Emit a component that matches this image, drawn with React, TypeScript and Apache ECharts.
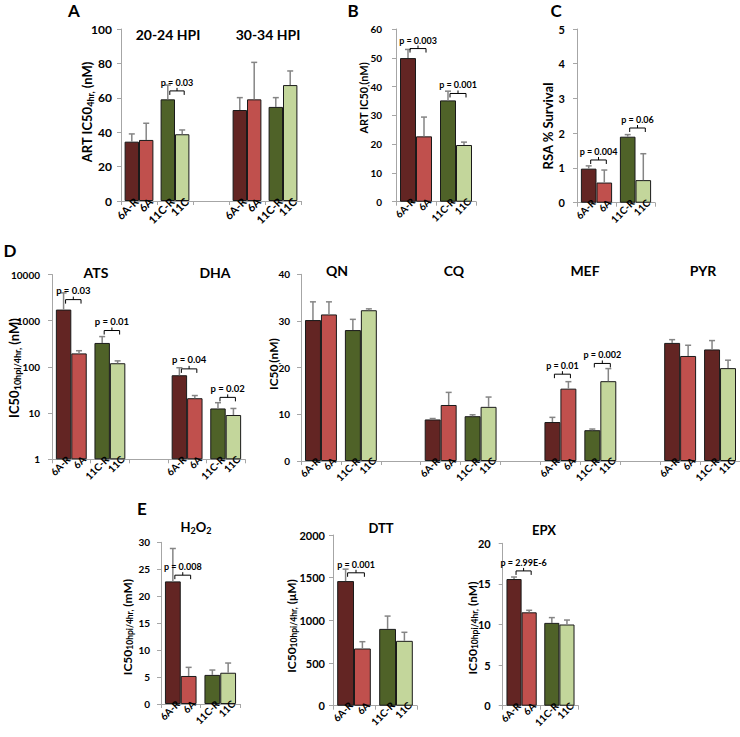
import React, { useEffect, useRef } from 'react';
import * as echarts from 'echarts';

const FONT = 'Lato, "Open Sans", "DejaVu Sans", sans-serif';

// ---------- labels / colours per strain pair ----------
const RES_LABEL: Record<string, string> = { '6A': '6A-R', '11C': '11C-R' };
const PAR_LABEL: Record<string, string> = { '6A': '6A', '11C': '11C' };
const RES_COLOR: Record<string, string> = { '6A': '#632523', '11C': '#4F6228' };
const PAR_COLOR: Record<string, string> = { '6A': '#C0504D', '11C': '#C3D69B' };

// ---------- Panel A : ART IC50 4hr (20-24 HPI | 30-34 HPI) ----------
const aPairs = ['6A', '11C', '', '6A', '11C'];
const aRes = [34.5, 59.1, null, 52.9, 54.7];
const aResErr = [4.5, 8.3, null, 7.2, 5.4];
const aPar = [35.5, 38.8, null, 59.1, 67.4];
const aParErr = [9.7, 2.5, null, 21.5, 8.2];
const aBrCats = [1];
const aBrY = [64];
const aBrText = ['p = 0.03'];

// ---------- Panel B : ART IC50 ----------
const bPairs = ['6A', '11C'];
const bRes = [49.9, 35.2];
const bResErr = [3, 3.2];
const bPar = [22.7, 19.7];
const bParErr = [6.7, 1];
const bBrCats = [0, 1];
const bBrY = [53.2, 37.6];
const bBrText = ['p = 0.003', 'p = 0.001'];

// ---------- Panel C : RSA % survival ----------
const cPairs = ['6A', '11C'];
const cRes = [0.98, 1.9];
const cResErr = [0.08, 0.06];
const cPar = [0.58, 0.65];
const cParErr = [0.36, 0.76];
const cBrCats = [0, 1];
const cBrY = [1.23, 2.15];
const cBrText = ['p = 0.004', 'p = 0.06'];

// ---------- Panel D (log) : ATS | DHA ----------
const dlPairs = ['6A', '11C', '', '6A', '11C'];
const dlRes = [1740, 330, null, 66, 12.6];
const dlResErr = [2260, 123, null, 30, 4.2];
const dlPar = [196, 120, null, 21, 9.1];
const dlParErr = [28, 15, null, 3, 3.5];
const dlBrCats = [0, 1, 3, 4];
const dlBrY = [2860, 613, 90.6, 21.9];
const dlBrText = ['p = 0.03', 'p = 0.01', 'p = 0.04', 'p = 0.02'];

// ---------- Panel D (linear) : QN | CQ | MEF | PYR ----------
const drPairs = ['6A', '11C', '', '6A', '11C', '', '6A', '11C', '', '6A', '11C'];
const drRes = [30.2, 28.05, null, 8.9, 9.6, null, 8.35, 6.6, null, 25.3, 23.9];
const drResErr = [3.9, 2.3, null, 0.2, 0.3, null, 1.0, 0.25, null, 0.7, 1.9];
const drPar = [31.4, 32.3, null, 12.0, 11.6, null, 15.5, 17.1, null, 22.5, 19.9];
const drParErr = [2.7, 0.3, null, 2.7, 2.1, null, 1.5, 2.7, null, 2.3, 1.7];
const drBrCats = [6, 7];
const drBrY = [18.6, 20.9];
const drBrText = ['p = 0.01', 'p = 0.002'];

// ---------- Panel E : H2O2 | DTT | EPX ----------
const hPairs = ['6A', '11C'];
const hRes = [22.75, 5.4];
const hResErr = [6.1, 0.9];
const hPar = [5.2, 5.8];
const hParErr = [1.6, 1.8];
const hBrCats = [0];
const hBrY = [23.9];
const hBrText = ['p = 0.008'];

const tPairs = ['6A', '11C'];
const tRes = [1460, 900];
const tResErr = [140, 150];
const tPar = [670, 760];
const tParErr = [80, 100];
const tBrCats = [0];
const tBrY = [1557];
const tBrText = ['p = 0.001'];

const ePairs = ['6A', '11C'];
const eRes = [15.6, 10.2];
const eResErr = [0.25, 0.65];
const ePar = [11.5, 10.0];
const eParErr = [0.25, 0.55];
const eBrCats = [0];
const eBrY = [16.6];
const eBrText = ['p = 2.99E-6'];

type Panel = {
  pairs: string[];
  res: (number | null)[];
  resErr: (number | null)[];
  par: (number | null)[];
  parErr: (number | null)[];
  brCats: number[];
  brY: number[];
  brText: string[];
  left: number; top: number; width: number; height: number;
  log?: boolean; min: number; max: number; interval?: number;
  tickFont: number; margin: number; xFont: number; pFont: number;
  resColorOverride?: Record<number, string>;
};

const panels: Panel[] = [
  { pairs: aPairs, res: aRes, resErr: aResErr, par: aPar, parErr: aParErr, brCats: aBrCats, brY: aBrY, brText: aBrText,
    left: 121, top: 29, width: 180, height: 172, min: 0, max: 100, interval: 20, tickFont: 12, margin: 9, xFont: 11, pFont: 9 },
  { pairs: bPairs, res: bRes, resErr: bResErr, par: bPar, parErr: bParErr, brCats: bBrCats, brY: bBrY, brText: bBrText,
    left: 396, top: 29, width: 80, height: 172.7, min: 0, max: 60, interval: 10, tickFont: 10, margin: 14, xFont: 10, pFont: 9 },
  { pairs: cPairs, res: cRes, resErr: cResErr, par: cPar, parErr: cParErr, brCats: cBrCats, brY: cBrY, brText: cBrText,
    left: 577, top: 29, width: 78, height: 173.7, min: 0, max: 5, interval: 1, tickFont: 11, margin: 12, xFont: 10, pFont: 9 },
  { pairs: dlPairs, res: dlRes, resErr: dlResErr, par: dlPar, parErr: dlParErr, brCats: dlBrCats, brY: dlBrY, brText: dlBrText,
    left: 52, top: 274.5, width: 193, height: 184.8, log: true, min: 1, max: 10000, tickFont: 10, margin: 12, xFont: 10, pFont: 9.5 },
  { pairs: drPairs, res: drRes, resErr: drResErr, par: drPar, parErr: drParErr, brCats: drBrCats, brY: drBrY, brText: drBrText,
    left: 301, top: 274.3, width: 440, height: 186.7, min: 0, max: 40, interval: 10, tickFont: 10, margin: 11, xFont: 10, pFont: 9,
    resColorOverride: { 10: '#632523' } },
  { pairs: hPairs, res: hRes, resErr: hResErr, par: hPar, parErr: hParErr, brCats: hBrCats, brY: hBrY, brText: hBrText,
    left: 161, top: 542.3, width: 79, height: 161.7, min: 0, max: 30, interval: 5, tickFont: 10, margin: 11, xFont: 10, pFont: 9 },
  { pairs: tPairs, res: tRes, resErr: tResErr, par: tPar, parErr: tParErr, brCats: tBrCats, brY: tBrY, brText: tBrText,
    left: 333, top: 535, width: 84, height: 170.7, min: 0, max: 2000, interval: 500, tickFont: 11, margin: 8, xFont: 10, pFont: 9 },
  { pairs: ePairs, res: eRes, resErr: eResErr, par: ePar, parErr: eParErr, brCats: eBrCats, brY: eBrY, brText: eBrText,
    left: 502.7, top: 543.3, width: 75.6, height: 162.4, min: 0, max: 20, interval: 5, tickFont: 11, margin: 12, xFont: 10, pFont: 9 },
];

// ---------- texts placed on the figure ----------
const panelLetters = [
  { t: 'A', x: 74, y: 10 }, { t: 'B', x: 353, y: 10 }, { t: 'C', x: 556, y: 10 },
  { t: 'D', x: 10, y: 250 }, { t: 'E', x: 142, y: 508 },
];
const titles = [
  { t: '20-24 HPI', x: 168, y: 34, s: 14 }, { t: '30-34 HPI', x: 268, y: 34, s: 14 },
  { t: 'ATS', x: 96, y: 272, s: 14 }, { t: 'DHA', x: 215, y: 272, s: 14 },
  { t: 'QN', x: 337, y: 270, s: 14 }, { t: 'CQ', x: 454, y: 270, s: 14 },
  { t: 'MEF', x: 585, y: 270, s: 14 }, { t: 'PYR', x: 703, y: 270, s: 14 },
  { t: 'DTT', x: 381, y: 528, s: 13 }, { t: 'EPX', x: 544, y: 530, s: 13 },
];
const yNames = [
  { main1: 'ART IC50', sub: '4hr,', main2: ' (nM)', x: 87, y: 112, s: 13, ss: 9 },
  { main1: 'ART IC50', sub: ',', main2: '(nM)', x: 363, y: 98, s: 11, ss: 8 },
  { main1: 'RSA % Survival', sub: '', main2: '', x: 548, y: 126, s: 13, ss: 9 },
  { main1: 'IC50', sub: '10hpi/4hr,', main2: ' (nM)', x: 14, y: 368, s: 13, ss: 9 },
  { main1: 'IC50', sub: ',', main2: '(nM)', x: 273, y: 364, s: 12, ss: 8 },
  { main1: 'IC50', sub: '10hpi/4hr,', main2: ' (mM)', x: 127, y: 627, s: 12, ss: 8.5 },
  { main1: 'IC50', sub: '10hpi/4hr,', main2: ' (μM)', x: 291, y: 626, s: 12, ss: 8.5 },
  { main1: 'IC50', sub: '10hpi/4hr,', main2: ' (nM)', x: 472, y: 628, s: 12, ss: 8.5 },
];

const AXIS_COLOR = '#a6a6a6';
const ERR_COLOR = '#858585';

function buildOption() {
  const grid: any[] = [];
  const xAxis: any[] = [];
  const yAxis: any[] = [];
  const series: any[] = [];

  panels.forEach((p, i) => {
    const n = p.pairs.length;
    const band = p.width / n;
    const bw = band * 0.4;
    grid.push({ left: p.left, top: p.top, width: p.width, height: p.height });
    xAxis.push({
      gridIndex: i, type: 'category', data: p.pairs.map((_, j) => 'c' + j),
      axisLine: { show: true, onZero: false, lineStyle: { color: AXIS_COLOR, width: 1 } },
      axisTick: { show: true, interval: 0, length: 4, lineStyle: { color: AXIS_COLOR } },
      axisLabel: { show: false }, splitLine: { show: false },
    });
    const y: any = {
      gridIndex: i, type: p.log ? 'log' : 'value', min: p.min, max: p.max,
      axisLine: { show: true, lineStyle: { color: AXIS_COLOR, width: 1 } },
      axisTick: { show: true, length: 4, lineStyle: { color: AXIS_COLOR } },
      splitLine: { show: false },
      axisLabel: { fontSize: p.tickFont, fontWeight: 'bold', color: '#000', margin: p.margin, fontFamily: FONT,
        formatter: (v: number) => String(Math.round(v * 1000) / 1000) },
    };
    if (p.log) y.logBase = 10; else y.interval = p.interval;
    yAxis.push(y);

    const mkBar = (vals: (number | null)[], kind: 'res' | 'par') => ({
      type: 'bar', xAxisIndex: i, yAxisIndex: i, barGap: '0%', barCategoryGap: '20%', z: 2, silent: true,
      data: vals.map((v, j) => v == null ? '-' : {
        value: v,
        itemStyle: { color: kind === 'res' ? ((p.resColorOverride && p.resColorOverride[j]) || RES_COLOR[p.pairs[j]]) : PAR_COLOR[p.pairs[j]] },
      }),
      itemStyle: { borderColor: '#1a1a1a', borderWidth: 1 },
      label: {
        show: true, position: 'bottom', distance: 3, rotate: 45, align: 'right', verticalAlign: 'middle',
        offset: [bw / 2 - 1, 0],
        formatter: (prm: any) => kind === 'res' ? RES_LABEL[p.pairs[prm.dataIndex]] : PAR_LABEL[p.pairs[prm.dataIndex]],
        fontSize: p.xFont, fontWeight: 'bold', fontFamily: FONT, color: '#000',
      },
    });
    series.push(mkBar(p.res, 'res'));
    series.push(mkBar(p.par, 'par'));

    const errData: number[][] = [];
    p.res.forEach((v, j) => { if (v != null) errData.push([j, v, p.resErr[j] as number, 0]); });
    p.par.forEach((v, j) => { if (v != null) errData.push([j, v, p.parErr[j] as number, 1]); });
    series.push({
      type: 'custom', xAxisIndex: i, yAxisIndex: i, z: 5, silent: true, data: errData,
      renderItem: (_params: any, api: any) => {
        const cat = api.value(0), v = api.value(1), e = api.value(2), side = api.value(3);
        const base = api.coord([cat, v]);
        const top = api.coord([cat, v + e]);
        const x = base[0] + (side === 0 ? -0.2 : 0.2) * band;
        return {
          type: 'group', children: [
            { type: 'line', shape: { x1: x, y1: base[1], x2: x, y2: top[1] }, style: { stroke: ERR_COLOR, lineWidth: 1.5 } },
            { type: 'line', shape: { x1: x - 3, y1: top[1], x2: x + 3, y2: top[1] }, style: { stroke: ERR_COLOR, lineWidth: 1.5 } },
          ],
        };
      },
    });

    const brData = p.brCats.map((c, k) => [c, p.brY[k]]);
    series.push({
      type: 'custom', xAxisIndex: i, yAxisIndex: i, z: 6, silent: true, data: brData,
      renderItem: (params: any, api: any) => {
        const c = api.coord([api.value(0), api.value(1)]);
        const xL = c[0] - 0.2 * band + 2;
        const xR = c[0] + 0.2 * band + 2;
        const xm = (xL + xR) / 2;
        const yy = c[1];
        return {
          type: 'group', children: [
            { type: 'polyline', shape: { points: [[xL, yy + 4], [xL, yy], [xR, yy], [xR, yy + 4]] }, style: { stroke: '#000', lineWidth: 1, fill: 'none' } },
            { type: 'line', shape: { x1: xm, y1: yy, x2: xm, y2: yy - 3 }, style: { stroke: '#000', lineWidth: 1 } },
            { type: 'text', x: xm, y: yy - 4, style: { text: p.brText[params.dataIndex], align: 'center', verticalAlign: 'bottom',
              fontSize: p.pFont, fontWeight: 'bold', fontFamily: FONT, fill: '#000' } },
          ],
        };
      },
    });
  });

  const graphic: any[] = [];
  panelLetters.forEach((l) => graphic.push({
    type: 'text', x: l.x, y: l.y, silent: true,
    style: { text: l.t, align: 'center', verticalAlign: 'middle', fontSize: 17, fontWeight: 'bold', fontFamily: FONT, fill: '#000' },
  }));
  titles.forEach((t) => graphic.push({
    type: 'text', x: t.x, y: t.y, silent: true,
    style: { text: t.t, align: 'center', verticalAlign: 'middle', fontSize: t.s, fontWeight: 'bold', fontFamily: FONT, fill: '#000' },
  }));
  // H2O2 title with subscripts
  graphic.push({
    type: 'text', x: 196, y: 527, silent: true,
    style: {
      text: '{m|H}{s|2}{m|O}{s|2}', align: 'center', verticalAlign: 'middle', fontFamily: FONT, fill: '#000',
      rich: {
        m: { fontSize: 13, fontWeight: 'bold', fontFamily: FONT, fill: '#000', lineHeight: 16 },
        s: { fontSize: 9, fontWeight: 'bold', fontFamily: FONT, fill: '#000', lineHeight: 9, verticalAlign: 'bottom' },
      },
    },
  });
  yNames.forEach((n) => {
    const parts = ['{m|' + n.main1 + '}'];
    if (n.sub) parts.push('{s|' + n.sub + '}');
    if (n.main2) parts.push('{m|' + n.main2 + '}');
    graphic.push({
      type: 'text', x: n.x, y: n.y, rotation: Math.PI / 2, silent: true,
      style: {
        text: parts.join(''), align: 'center', verticalAlign: 'middle', fontFamily: FONT, fill: '#000',
        rich: {
          m: { fontSize: n.s, fontWeight: 'bold', fontFamily: FONT, fill: '#000', lineHeight: n.s + 3 },
          s: { fontSize: n.ss, fontWeight: 'bold', fontFamily: FONT, fill: '#000', lineHeight: n.ss, verticalAlign: 'bottom' },
        },
      },
    });
  });

  return {
    animation: false,
    backgroundColor: '#ffffff',
    textStyle: { fontFamily: FONT },
    grid, xAxis, yAxis, series, graphic,
  };
}

export default function App() {
  const ref = useRef<HTMLDivElement>(null);
  useEffect(() => {
    document.body.style.margin = '0';
    if (!ref.current) return;
    const chart = echarts.init(ref.current, undefined, { renderer: 'svg' });
    chart.setOption(buildOption() as any);
    return () => chart.dispose();
  }, []);
  return <div ref={ref} style={{ width: 740, height: 737 }} />;
}
